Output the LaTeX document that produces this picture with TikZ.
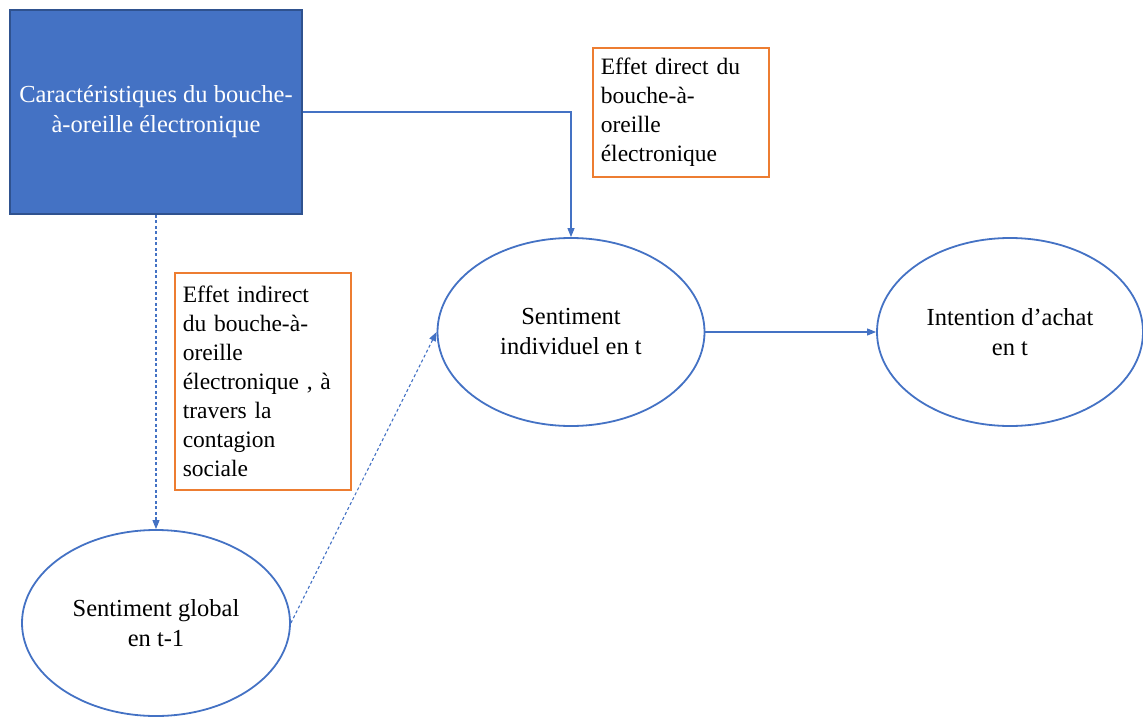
\documentclass[tikz,border=0pt]{standalone}
\usepackage{fontspec}
\setmainfont{Liberation Serif}
\usetikzlibrary{arrows.meta,shapes.geometric}
\definecolor{accent}{HTML}{4472C4}
\definecolor{boxborder}{HTML}{2F528F}
\definecolor{orangeb}{HTML}{ED7D31}
\begin{document}
\begin{tikzpicture}[x=1pt,y=-1pt,
  every node/.style={font=\fontsize{24.5}{30}\selectfont},
  mainbox/.style={draw=boxborder,line width=1.5pt,fill=accent,text=white,align=center,
    minimum width=292pt,minimum height=204pt,inner sep=0pt},
  ell/.style={ellipse,draw=accent,line width=1.8pt,align=center,inner sep=0pt},
  notebox/.style={draw=orangeb,line width=1.6pt,align=left,text width=160pt,inner xsep=8pt,inner ysep=0pt,anchor=north west,
    font=\fontsize{23.5}{29}\selectfont},
  conn/.style={draw=accent,line width=1.1pt,-{Triangle[length=9pt,width=7pt]}},
  dconn/.style={conn,dash pattern=on 3pt off 2.5pt}]
\useasboundingbox (0,0) rectangle (1143,717);
\node[mainbox] (car) at (156,112) {Caractéristiques du bouche-\\à-oreille électronique};
\node[notebox,minimum width=176pt,minimum height=129pt] (direct) at (592,47)
  {Effet direct du\\bouche-à-\\oreille\\électronique};
\node[notebox,minimum width=176pt,minimum height=217pt] (indirect) at (174,272)
  {Effet indirect\\du bouche-à-\\oreille\\électronique , à\\travers la\\contagion\\sociale};
\node[ell,minimum width=267pt,minimum height=188pt] (ind) at (571,332) {Sentiment\\individuel en t};
\node[ell,minimum width=266pt,minimum height=188pt] (int) at (1010,332) {Intention d’achat\\en t};
\node[ell,minimum width=268pt,minimum height=186pt] (glob) at (156,623) {Sentiment global\\en t-1};
\draw[conn] (car.east) -| (ind.north);
\draw[dconn] (car.south) -- (glob.north);
\draw[dconn] (glob.east) -- (ind.west);
\draw[conn] (ind.east) -- (int.west);
\end{tikzpicture}
\end{document}
